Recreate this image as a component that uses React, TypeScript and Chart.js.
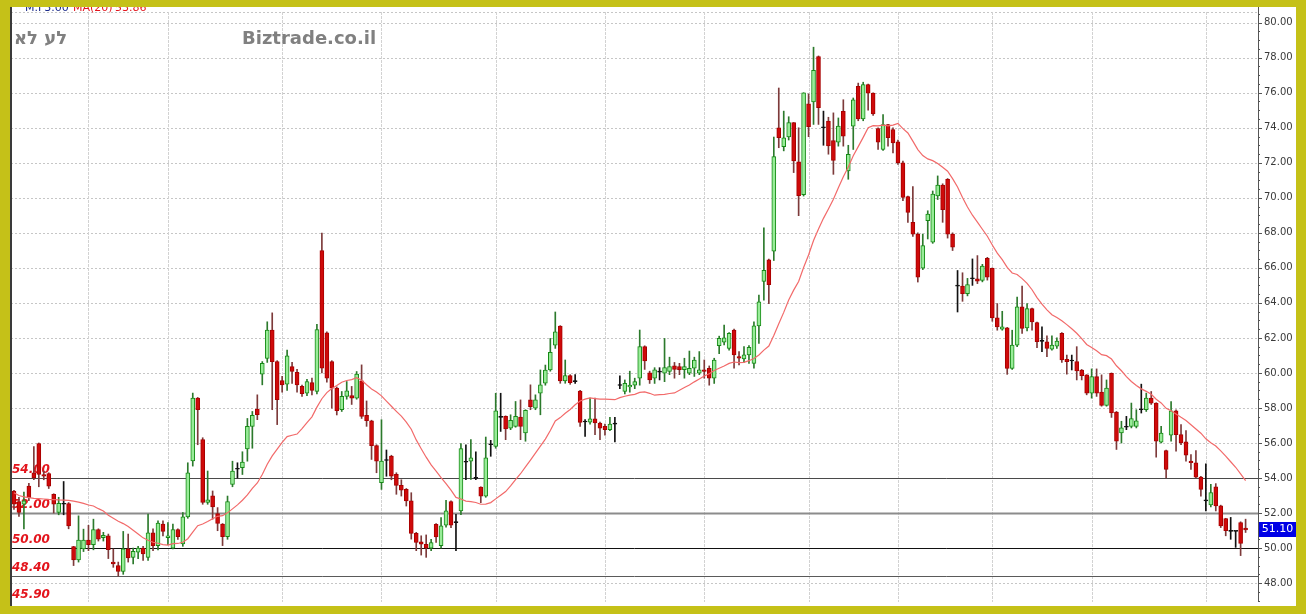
import React, { useEffect, useRef } from 'react';
import { Chart, registerables } from 'chart.js';
Chart.register(...registerables);

const opens = [
  53.26, 52.65, 52.5, 53.54, 54.3, 55.97, 54.2, 54.26, 53.07, 52.03,
  52.5, 52.54, 50.08, 49.32, 49.95, 50.46, 50.19, 51.06, 50.6, 50.7,
  49.2, 49.0, 48.66, 49.95, 49.47, 49.76, 50.0, 49.47, 50.87, 50.13,
  51.37, 50.6, 50.0, 51.06, 50.23, 51.78, 54.97, 58.56, 56.2, 52.6,
  52.98, 51.97, 51.37, 50.65, 53.64, 54.5, 54.59, 55.66, 56.95, 57.94,
  59.93, 60.83, 62.44, 60.65, 59.57, 59.36, 60.36, 60.04, 59.23, 58.85,
  59.45, 58.94, 66.99, 62.29, 60.65, 59.13, 57.9, 58.66, 58.7, 58.56,
  59.55, 57.58, 57.27, 55.85, 53.73, 55.0, 55.25, 54.21, 53.58, 53.35,
  52.69, 50.84, 50.36, 50.22, 50.0, 51.36, 50.13, 51.3, 52.65, 51.45,
  52.12, 54.9, 54.96, 53.98, 53.48, 52.97, 55.9, 55.81, 57.46, 57.52,
  56.85, 56.95, 57.48, 56.57, 58.46, 57.99, 58.84, 59.41, 60.17, 61.59,
  62.67, 59.54, 59.85, 59.55, 58.97, 57.2, 57.19, 57.38, 57.14, 56.95,
  56.76, 57.08, 59.28, 58.94, 59.2, 59.3, 59.7, 61.5, 60.0, 59.7,
  60.05, 59.99, 60.08, 60.4, 60.37, 60.18, 59.99, 60.27, 59.99, 60.18,
  60.27, 59.7, 61.56, 61.75, 61.4, 62.45, 60.93, 60.8, 61.03, 60.55,
  62.69, 65.23, 66.46, 66.96, 74.0, 72.92, 73.47, 74.29, 72.05, 70.18,
  75.36, 75.48, 78.07, 74.0, 74.38, 73.27, 73.18, 74.94, 71.53, 74.09,
  76.36, 74.5, 76.46, 75.98, 73.96, 72.76, 74.18, 73.9, 73.2, 72.0,
  70.07, 68.6, 67.93, 65.98, 68.69, 67.46, 70.11, 70.72, 71.06, 67.93,
  64.98, 64.96, 64.52, 65.38, 65.38, 65.28, 66.55, 65.98, 63.14, 62.5,
  62.57, 60.26, 61.59, 63.77, 62.57, 63.67, 62.88, 61.8, 61.78, 61.36,
  61.53, 62.26, 60.78, 60.68, 60.65, 60.17, 59.89, 58.85, 59.79, 58.9,
  58.15, 59.98, 57.77, 56.57, 56.9, 56.95, 56.95, 57.9, 57.9, 58.56,
  58.28, 56.04, 55.57, 56.44, 57.84, 56.48, 56.06, 54.96, 54.87, 54.05,
  52.69, 52.46, 53.49, 52.41, 51.69, 50.95, 50.95, 51.46, 51.14,
];

const highs = [
  53.3, 52.9, 53.2, 53.7, 55.8, 56.0, 54.4, 54.3, 53.1, 52.9,
  53.8, 52.6, 50.1, 51.84, 51.08, 51.3, 51.65, 51.1, 50.9, 50.8,
  49.95, 49.2, 50.95, 50.8, 50.0, 50.1, 50.1, 51.94, 51.1, 51.56,
  51.56, 51.46, 51.37, 51.1, 52.03, 54.87, 58.85, 58.6, 56.3, 54.4,
  53.26, 52.31, 51.4, 52.97, 54.96, 54.87, 55.5, 57.4, 57.8, 58.75,
  60.65, 62.92, 63.43, 60.7, 59.8, 61.3, 60.6, 60.2, 59.3, 59.64,
  59.7, 62.77, 67.98, 62.35, 60.7, 59.2, 58.94, 59.51, 59.23, 60.08,
  60.46, 58.4, 57.3, 55.9, 57.33, 55.6, 55.3, 54.3, 53.9, 53.4,
  53.16, 50.9, 50.7, 50.75, 50.5, 51.4, 51.74, 52.72, 52.7, 51.93,
  55.96, 55.9, 56.19, 55.5, 53.5, 56.34, 56.15, 58.84, 58.84, 57.55,
  57.61, 58.37, 58.46, 57.9, 59.32, 58.75, 60.17, 60.45, 61.97, 63.48,
  62.7, 60.74, 59.9, 59.9, 59.0, 57.33, 58.56, 58.56, 57.2, 57.08,
  57.46, 57.46, 59.83, 59.6, 60.1, 59.7, 62.45, 61.55, 60.1, 60.3,
  60.3, 61.97, 60.9, 60.6, 60.55, 60.84, 61.25, 60.9, 61.22, 60.74,
  60.4, 60.84, 62.1, 62.73, 62.3, 62.5, 61.22, 61.5, 61.56, 62.92,
  64.44, 68.28, 66.5, 73.47, 76.27, 74.95, 74.63, 74.3, 74.0, 76.0,
  75.93, 78.6, 78.1, 74.95, 74.6, 74.85, 74.56, 75.6, 73.0, 75.7,
  76.55, 76.6, 76.5, 76.0, 74.0, 74.75, 74.2, 74.0, 73.3, 72.1,
  70.1, 70.64, 68.0, 67.93, 69.26, 70.39, 71.25, 70.8, 71.1, 68.0,
  65.85, 65.72, 65.4, 66.51, 66.7, 66.2, 66.6, 66.0, 63.96, 63.52,
  62.6, 62.44, 64.33, 64.96, 63.96, 63.7, 62.9, 62.63, 62.12, 62.12,
  62.01, 62.3, 61.02, 61.02, 61.5, 60.2, 59.9, 60.23, 60.23, 59.89,
  59.6, 60.0, 57.8, 57.24, 57.52, 58.28, 57.9, 59.36, 58.85, 58.94,
  58.3, 56.95, 55.6, 58.37, 57.9, 57.05, 56.71, 55.34, 55.57, 54.1,
  54.81, 53.64, 53.68, 52.45, 51.7, 51.75, 50.98, 51.5, 51.65,
];

const lows = [
  52.2, 51.8, 51.1, 52.7, 53.9, 53.5, 53.9, 53.4, 52.0, 51.9,
  51.9, 51.1, 49.0, 49.2, 49.8, 49.85, 49.9, 50.4, 50.4, 49.4,
  48.9, 48.4, 48.5, 49.2, 49.1, 49.4, 49.3, 49.3, 49.85, 49.9,
  50.7, 50.2, 49.95, 50.5, 50.1, 51.7, 54.68, 55.9, 52.5, 52.5,
  51.65, 50.99, 50.14, 50.5, 53.5, 54.0, 54.2, 54.96, 55.7, 57.33,
  59.32, 60.6, 57.9, 57.05, 58.9, 59.0, 59.4, 58.9, 58.66, 58.7,
  58.75, 58.8, 60.0, 59.47, 57.99, 57.6, 57.8, 58.5, 58.2, 58.5,
  57.4, 56.95, 55.06, 54.3, 53.35, 54.1, 53.9, 53.07, 52.97, 52.4,
  50.51, 49.85, 49.6, 49.47, 49.85, 50.32, 50.0, 51.2, 51.17, 49.85,
  51.9, 53.9, 53.92, 53.9, 52.59, 52.9, 55.24, 55.7, 56.66, 56.19,
  56.76, 56.9, 56.19, 56.1, 57.9, 57.9, 57.61, 59.3, 60.1, 61.4,
  59.41, 59.41, 59.35, 59.4, 56.95, 56.38, 57.08, 56.47, 56.19, 56.44,
  56.7, 56.06, 59.1, 58.8, 58.9, 59.1, 59.3, 60.2, 59.4, 59.4,
  59.6, 59.5, 59.9, 59.7, 59.9, 59.7, 59.9, 59.8, 59.9, 59.7,
  59.3, 59.4, 61.1, 61.6, 61.3, 60.27, 60.46, 60.6, 60.55, 60.27,
  61.69, 64.15, 63.96, 66.42, 72.86, 72.68, 73.3, 71.44, 68.98, 70.1,
  73.49, 74.19, 74.19, 73.0, 72.49, 71.34, 72.95, 72.95, 71.06, 72.76,
  74.4, 74.4, 75.0, 74.7, 72.76, 72.7, 72.95, 72.57, 71.9, 69.83,
  68.6, 67.8, 65.19, 65.9, 67.65, 67.4, 69.9, 68.6, 67.7, 66.99,
  63.48, 64.09, 64.4, 65.0, 65.1, 65.2, 65.3, 62.95, 62.44, 62.44,
  59.92, 60.2, 61.5, 62.25, 62.4, 62.44, 61.44, 61.21, 60.93, 61.3,
  61.4, 60.6, 59.93, 60.17, 59.6, 59.6, 58.75, 58.56, 58.66, 58.1,
  58.1, 57.46, 55.63, 56.0, 56.76, 56.86, 56.86, 57.71, 57.8, 58.2,
  55.19, 56.0, 54.0, 56.1, 55.53, 55.9, 54.96, 54.49, 54.0, 52.97,
  52.12, 52.35, 52.12, 51.17, 50.7, 50.5, 50.04, 49.57, 50.89,
];

const closes = [
  52.5, 52.03, 52.7, 52.88, 54.0, 54.21, 54.1, 53.54, 52.5, 52.56,
  52.55, 51.27, 49.32, 50.46, 50.46, 50.19, 51.06, 50.51, 50.72, 49.91,
  49.1, 48.66, 49.95, 49.43, 49.81, 50.0, 49.66, 50.87, 50.13, 51.42,
  50.95, 50.7, 51.06, 50.65, 51.78, 54.3, 58.56, 57.9, 52.6, 52.75,
  52.35, 51.4, 50.65, 52.65, 54.4, 54.55, 54.91, 56.95, 57.58, 57.62,
  60.55, 62.44, 60.65, 58.47, 59.32, 60.97, 60.08, 59.32, 58.81, 59.51,
  59.0, 62.48, 60.27, 59.7, 59.13, 57.84, 58.66, 58.98, 58.56, 59.93,
  57.52, 57.27, 55.85, 54.96, 54.96, 55.05, 54.11, 53.58, 53.3, 52.69,
  50.84, 50.32, 50.22, 50.0, 50.32, 50.64, 51.27, 52.12, 51.3, 51.5,
  55.68, 54.95, 55.15, 54.0, 52.97, 55.15, 55.93, 57.84, 57.5, 56.8,
  57.29, 57.52, 56.95, 57.86, 58.08, 58.46, 59.32, 60.17, 61.17, 62.35,
  59.54, 59.85, 59.45, 59.5, 57.18, 57.25, 57.38, 57.14, 56.85, 56.76,
  57.08, 57.1, 59.3, 59.41, 59.3, 59.5, 61.5, 60.69, 59.6, 60.18,
  60.1, 60.3, 60.37, 60.2, 60.18, 60.37, 60.27, 60.74, 60.18, 60.08,
  59.7, 60.74, 61.97, 62.0, 62.26, 61.03, 60.84, 61.03, 61.46, 62.69,
  64.06, 65.86, 65.04, 72.35, 73.43, 73.43, 74.29, 72.11, 70.12, 75.99,
  74.06, 77.28, 75.14, 74.05, 72.96, 72.14, 74.09, 73.52, 72.48, 75.6,
  74.5, 76.46, 75.98, 74.79, 73.18, 74.18, 73.43, 73.14, 72.0, 70.02,
  69.16, 67.93, 65.47, 67.27, 69.07, 70.21, 70.72, 69.32, 67.93, 67.18,
  64.96, 64.52, 65.04, 65.4, 65.24, 66.1, 65.47, 63.14, 62.63, 62.63,
  60.26, 61.59, 63.77, 62.54, 63.67, 62.92, 61.78, 61.82, 61.4, 61.59,
  61.82, 60.74, 60.65, 60.7, 60.12, 59.85, 58.85, 59.79, 58.85, 58.15,
  59.13, 57.71, 56.1, 56.86, 56.92, 57.39, 57.27, 57.92, 58.56, 58.28,
  56.1, 56.57, 54.49, 57.84, 56.48, 56.0, 55.3, 54.87, 54.05, 53.35,
  52.7, 53.17, 52.41, 51.27, 50.99, 50.97, 50.96, 50.27, 51.03,
];

// moving-average values of the first 19 sessions
const maLead = [
  53.16, 53.0, 52.92, 52.88, 52.84, 52.82, 52.8, 52.78, 52.77, 52.75,
  52.74, 52.72, 52.68, 52.62, 52.55, 52.46, 52.4, 52.25, 52.12,
];
const MA_PERIOD = 20;

const yTicks = [48, 50, 52, 54, 56, 58, 60, 62, 64, 66, 68, 70, 72, 74, 76, 78, 80];
const monthStarts = [15, 31, 54, 74, 97, 119, 139, 160, 178, 197, 217, 240];
const levels = [54, 52, 50, 48.4, 45.9];
const levelLabels = ['54.00', '52.00', '50.00', '48.40', '45.90'];
const lastPrice = 51.1;
const titleText = 'אל על';
const siteText = 'Biztrade.co.il';

const Y_MIN = 46.92;
const Y_MAX = 80.61;

const maValues = closes.map((_, i) => {
  if (i < maLead.length) return maLead[i];
  let s = 0;
  for (let k = i - MA_PERIOD + 1; k <= i; k++) s += closes[k];
  return s / MA_PERIOD;
});

const kind = (i: number) => {
  const d = closes[i] - opens[i];
  if (Math.abs(d) < 0.06) return 'doji';
  return d > 0 ? 'up' : 'down';
};

const YELLOW = 'rgb(197,193,24)';

const framePlugin = {
  id: 'frame',
  beforeDraw(chart: any) {
    const { ctx, chartArea: a, scales } = chart;
    const x = scales.x, y = scales.y;
    ctx.save();
    ctx.fillStyle = '#ffffff';
    ctx.fillRect(0, 0, chart.width, chart.height);
    ctx.lineWidth = 1;
    ctx.strokeStyle = '#c6c6c6';
    ctx.setLineDash([2, 2]);
    ctx.beginPath();
    for (const t of yTicks) {
      const py = Math.round(y.getPixelForValue(t)) + 0.5;
      ctx.moveTo(a.left, py); ctx.lineTo(a.right, py);
    }
    ctx.moveTo(a.left, a.top + 0.5); ctx.lineTo(a.right, a.top + 0.5);
    ctx.stroke();
    ctx.strokeStyle = '#d2d2d2';
    ctx.setLineDash([3, 1]);
    ctx.beginPath();
    for (const m of monthStarts) {
      const px = Math.round(x.getPixelForValue(m)) + 0.5;
      ctx.moveTo(px, a.top); ctx.lineTo(px, a.bottom);
    }
    ctx.stroke();
    ctx.setLineDash([]);
    const lvlStyle = [
      ['#4a4a4a', 1], ['#8c8c8c', 2], ['#111111', 1], ['#5a5a5a', 1],
    ];
    levels.forEach((lv, k) => {
      if (lv < Y_MIN) return;
      const st = lvlStyle[k];
      const py = Math.round(y.getPixelForValue(lv)) + 0.5;
      ctx.strokeStyle = st[0] as string;
      ctx.lineWidth = st[1] as number;
      ctx.beginPath(); ctx.moveTo(a.left, py); ctx.lineTo(a.right, py); ctx.stroke();
    });
    ctx.fillStyle = '#e3141c';
    ctx.font = 'italic bold 12px "DejaVu Sans"';
    ctx.textBaseline = 'middle';
    ctx.textAlign = 'left';
    levels.forEach((lv, k) => {
      let py = y.getPixelForValue(lv) - 8;
      if (py > a.bottom - 8) py = a.bottom - 7.5;
      ctx.fillText(levelLabels[k], 12, py);
    });
    ctx.restore();
  },
  afterDraw(chart: any) {
    const { ctx, chartArea: a, scales } = chart;
    const y = scales.y;
    ctx.save();
    ctx.strokeStyle = '#555';
    ctx.lineWidth = 1;
    ctx.beginPath();
    ctx.moveTo(a.right + 0.5, 7); ctx.lineTo(a.right + 0.5, a.bottom);
    for (let v = 47; v <= 80.5; v += 0.5) {
      const py = Math.round(y.getPixelForValue(v)) + 0.5;
      const len = Math.abs(v - Math.round(v / 2) * 2) < 0.01 ? 4 : 2;
      ctx.moveTo(a.right, py); ctx.lineTo(a.right + len, py);
    }
    ctx.stroke();
    const py = y.getPixelForValue(lastPrice);
    ctx.fillStyle = '#0000e6';
    ctx.fillRect(a.right + 1, Math.round(py) - 7, 37, 15);
    ctx.fillStyle = '#ffffff';
    ctx.font = '11px "DejaVu Sans"';
    ctx.textAlign = 'center';
    ctx.textBaseline = 'middle';
    ctx.fillText(lastPrice.toFixed(2), a.right + 19.5, Math.round(py) + 0.5);
    ctx.fillStyle = '#808080';
    ctx.font = 'bold 18px "DejaVu Sans"';
    ctx.textAlign = 'left';
    ctx.fillText('\u202D' + titleText + '\u202C', 14, 39);
    ctx.fillText(siteText, 242, 39);
    ctx.font = '11px "DejaVu Sans"';
    ctx.textBaseline = 'alphabetic';
    ctx.fillStyle = '#1a2a8a';
    ctx.fillText('M.F3.00', 25, 11);
    ctx.fillStyle = '#e3141c';
    ctx.fillText('MA(20)', 73, 11);
    ctx.fillText('53.86', 115, 11);
    ctx.fillStyle = '#3a3a3a';
    ctx.fillRect(10, 7, 2, 599);
    ctx.fillStyle = YELLOW;
    ctx.fillRect(0, 0, chart.width, 7);
    ctx.fillRect(0, 0, 10, chart.height);
    ctx.fillRect(1296, 0, 10, chart.height);
    ctx.fillRect(0, 606, chart.width, 8);
    ctx.restore();
  },
};

export default function App() {
  const ref = useRef<HTMLCanvasElement>(null);
  useEffect(() => {
    document.body.style.margin = '0';
    const idx = closes.map((_, i) => i);
    const wickData = idx.map((i) => ({ x: i, y: [lows[i], highs[i]] }));
    const bodyData = idx.map((i) => ({ x: i, y: [opens[i], closes[i]] }));
    const maData = idx.map((i) => ({ x: i, y: maValues[i] }));
    const wickColors = idx.map((i) => (kind(i) === 'up' ? '#2c7a2c' : kind(i) === 'down' ? '#7d3a3a' : '#111111'));
    const fillColors = idx.map((i) => (kind(i) === 'up' ? '#98ec98' : kind(i) === 'down' ? '#cf0a0a' : '#111111'));
    const borderColors = idx.map((i) => (kind(i) === 'up' ? '#168a16' : kind(i) === 'down' ? '#a80000' : '#111111'));

    const chart = new Chart(ref.current as HTMLCanvasElement, {
      type: 'bar',
      data: {
        datasets: [
          {
            type: 'bar',
            data: wickData as any,
            backgroundColor: wickColors,
            borderWidth: 0,
            barThickness: 1,
            grouped: false,
            order: 3,
          } as any,
          {
            type: 'bar',
            data: bodyData as any,
            backgroundColor: fillColors,
            borderColor: borderColors,
            borderWidth: 1,
            borderSkipped: false,
            barThickness: 4,
            minBarLength: 1,
            grouped: false,
            order: 2,
          } as any,
          {
            type: 'line',
            data: maData as any,
            borderColor: '#f26a6a',
            borderWidth: 1.2,
            pointRadius: 0,
            fill: false,
            tension: 0,
            order: 1,
          } as any,
        ],
      },
      options: {
        responsive: false,
        animation: false,
        devicePixelRatio: 1,
        layout: { padding: { left: 11, top: 12, right: 0, bottom: 9 } },
        plugins: { legend: { display: false }, tooltip: { enabled: false } },
        scales: {
          x: { type: 'linear', display: false, offset: false, min: -0.6, max: 250.5, grid: { offset: false } },
          y: {
            type: 'linear',
            position: 'right',
            min: Y_MIN,
            max: Y_MAX,
            afterBuildTicks: (s: any) => {
              s.ticks = yTicks.map((v) => ({ value: v }));
            },
            afterFit: (s: any) => {
              s.width = 48;
            },
            grid: { display: false, drawTicks: false },
            border: { display: false },
            ticks: {
              padding: 6,
              color: '#3a3a3a',
              font: { family: 'DejaVu Sans', size: 10 },
              callback: (v: any) => Number(v).toFixed(2),
            },
          },
        },
      } as any,
      plugins: [framePlugin],
    });
    return () => chart.destroy();
  }, []);
  return (
    <div style={{ position: 'relative', width: 1306, height: 614 }}>
      <canvas ref={ref} width={1306} height={614} style={{ display: 'block' }} />
    </div>
  );
}
